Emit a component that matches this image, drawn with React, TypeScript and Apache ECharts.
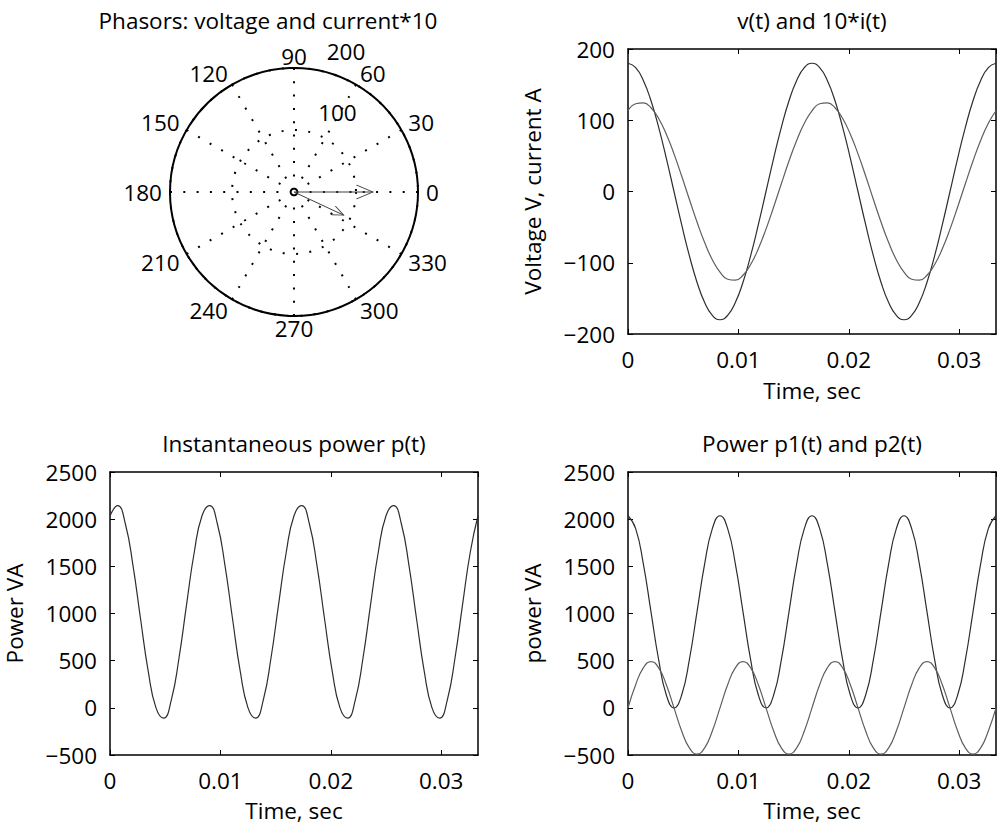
import React, { useEffect, useRef } from 'react';
import * as echarts from 'echarts';

// ---------------- data ----------------
const timeSec = [
  0, 0.000694, 0.001389, 0.002083, 0.002778, 0.003472, 0.004167, 0.004861, 0.005556, 0.00625, 0.006944, 0.007639,
  0.008333, 0.009028, 0.009722, 0.010417, 0.011111, 0.011806, 0.0125, 0.013194, 0.013889, 0.014583, 0.015278, 0.015972,
  0.016667, 0.017361, 0.018056, 0.01875, 0.019444, 0.020139, 0.020833, 0.021528, 0.022222, 0.022917, 0.023611, 0.024306,
  0.025, 0.025694, 0.026389, 0.027083, 0.027778, 0.028472, 0.029167, 0.029861, 0.030556, 0.03125, 0.031944, 0.032639,
  0.033333,
];

const voltageV = [
  180, 173.9, 155.9, 127.3, 90, 46.6, 0, -46.6, -90, -127.3, -155.9, -173.9,
  -180, -173.9, -155.9, -127.3, -90, -46.6, 0, 46.6, 90, 127.3, 155.9, 173.9,
  180, 173.9, 155.9, 127.3, 90, 46.6, 0, -46.6, -90, -127.3, -155.9, -173.9,
  -180, -173.9, -155.9, -127.3, -90, -46.6, 0, 46.6, 90, 127.3, 155.9, 173.9,
  180,
];

const current10A = [
  113.3, 123.1, 124.5, 117.5, 102.4, 80.3, 52.8, 21.7, -10.9, -42.8, -71.7, -95.8,
  -113.3, -123.1, -124.5, -117.5, -102.4, -80.3, -52.8, -21.7, 10.9, 42.8, 71.7, 95.8,
  113.3, 123.1, 124.5, 117.5, 102.4, 80.3, 52.8, 21.7, -10.9, -42.8, -71.7, -95.8,
  -113.3, -123.1, -124.5, -117.5, -102.4, -80.3, -52.8, -21.7, 10.9, 42.8, 71.7, 95.8,
  113.3,
];

const powerP = [
  2036, 2144.6, 1951.4, 1508, 933.4, 381.4, 0, -108.6, 84.6, 528, 1102.6, 1654.6,
  2036, 2144.6, 1951.4, 1508, 933.4, 381.4, 0, -108.6, 84.6, 528, 1102.6, 1654.6,
  2036, 2144.6, 1951.4, 1508, 933.4, 381.4, 0, -108.6, 84.6, 528, 1102.6, 1654.6,
  2036, 2144.6, 1951.4, 1508, 933.4, 381.4, 0, -108.6, 84.6, 528, 1102.6, 1654.6,
  2036,
];

const powerP1 = [
  2036, 1899.6, 1527, 1018, 509, 136.4, 0, 136.4, 509, 1018, 1527, 1899.6,
  2036, 1899.6, 1527, 1018, 509, 136.4, 0, 136.4, 509, 1018, 1527, 1899.6,
  2036, 1899.6, 1527, 1018, 509, 136.4, 0, 136.4, 509, 1018, 1527, 1899.6,
  2036, 1899.6, 1527, 1018, 509, 136.4, 0, 136.4, 509, 1018, 1527, 1899.6,
  2036,
];

const powerP2 = [
  0, 245, 424.4, 490, 424.4, 245, 0, -245, -424.4, -490, -424.4, -245,
  0, 245, 424.4, 490, 424.4, 245, 0, -245, -424.4, -490, -424.4, -245,
  0, 245, 424.4, 490, 424.4, 245, 0, -245, -424.4, -490, -424.4, -245,
  0, 245, 424.4, 490, 424.4, 245, 0, -245, -424.4, -490, -424.4, -245,
  0,
];

// phasors (rms magnitude, angle in degrees)
const phasorMagnitude = [127.3, 88.4];
const phasorAngleDeg = [0, 335];

// polar radius ring labels
const radiusTicks = [100, 200];
const radiusLabelAngle = 82;

const timeAxisRange = { min: 0, max: 0.033333, interval: 0.01 };
const viAxisRange = { min: -200, max: 200, interval: 100 };
const powerAxisRange = { min: -500, max: 2500, interval: 500 };
const angleAxisRange = { min: 0, max: 360, interval: 30 };
const radiusAxisRange = { min: 0, max: 200, interval: 100 };

const titles = [
  'Phasors: voltage and current*10',
  'v(t) and 10*i(t)',
  'Instantaneous power p(t)',
  'Power p1(t) and p2(t)',
];
const yNames = ['Voltage V, current A', 'Power VA', 'power VA'];
const xName = 'Time, sec';

// ---------------- styling ----------------
const FONT = '"Open Sans", "Noto Sans", sans-serif';
const FS = 22.5;
const DARK = '#2e2e2e';
const LIGHT = '#5e5e5e';
const ARROW = 'path://M-10,-4 L0,0 L-10,4 M10,0';
const DOTS = { color: '#000', width: 2, type: [2, 11.3] };

const txt = { fontFamily: FONT, fontSize: FS, color: '#000' };

const fmtY = (v: number) => (v < 0 ? '\u2212' + Math.abs(v) : String(v));
const fmtX = (v: number) => {
  const r = Math.round(v * 100);
  if (Math.abs(v * 100 - r) > 1e-6) return '';
  return r === 0 ? '0' : (r / 100).toFixed(2);
};

function buildOption() {
  const grids = [
    { left: 628, top: 49, width: 368, height: 285 },
    { left: 110, top: 472, width: 368, height: 283 },
    { left: 628, top: 472, width: 368, height: 283 },
  ];
  const yRanges = [viAxisRange, powerAxisRange, powerAxisRange];
  const xNameGaps = [47, 46, 46];

  const axisLine = { show: true, onZero: false, lineStyle: { color: '#000', width: 1.5 } };
  const axisTick = { show: true, inside: true, length: 5, lineStyle: { color: '#000', width: 1 } };

  const xAxis: any[] = [];
  const yAxis: any[] = [];
  grids.forEach((_, gi) => {
    xAxis.push({
      type: 'value', gridIndex: gi, position: 'bottom', ...timeAxisRange,
      axisLine, axisTick,
      axisLabel: { ...txt, margin: 14, formatter: fmtX, showMaxLabel: false },
      splitLine: { show: false },
      name: xName, nameLocation: 'middle', nameGap: xNameGaps[gi],
      nameTextStyle: { ...txt, lineHeight: 18 },
    });
    xAxis.push({
      type: 'value', gridIndex: gi, position: 'top', ...timeAxisRange,
      axisLine, axisTick, axisLabel: { show: false }, splitLine: { show: false },
    });
    yAxis.push({
      type: 'value', gridIndex: gi, position: 'left', ...yRanges[gi],
      axisLine, axisTick,
      axisLabel: { ...txt, margin: 13, formatter: fmtY },
      splitLine: { show: false },
      name: yNames[gi], nameLocation: 'middle', nameGap: 87, nameRotate: 90,
      nameTextStyle: { ...txt, lineHeight: 18 },
    });
    yAxis.push({
      type: 'value', gridIndex: gi, position: 'right', ...yRanges[gi],
      axisLine, axisTick, axisLabel: { show: false }, splitLine: { show: false },
    });
  });

  const pair = (ys: number[]) => timeSec.map((t, i) => [t, ys[i]]);
  const lineSeries = (name: string, ys: number[], gi: number, color: string) => ({
    type: 'line', name, xAxisIndex: gi * 2, yAxisIndex: gi * 2,
    data: pair(ys), showSymbol: false, symbol: 'none', smooth: true,
    lineStyle: { color, width: 1.2 }, itemStyle: { color }, silent: true,
  });

  const phasorSeries = phasorMagnitude.map((m, i) => ({
    type: 'line', coordinateSystem: 'polar', polarIndex: 0, silent: true, z: 5,
    showSymbol: true,
    symbol: (_v: any, p: any) => (p && p.dataIndex === 0 ? 'none' : ARROW),
    symbolSize: [m * 0.26, m * 0.11],
    symbolRotate: phasorAngleDeg[i],
    lineStyle: { color: '#404040', width: 1 },
    itemStyle: { color: 'transparent', borderColor: '#404040', borderWidth: 1 },
    data: [
      [0, phasorAngleDeg[i]],
      [m, phasorAngleDeg[i]],
    ],
  }));

  const titlePos = [[268, 20], [812, 20], [294, 443], [812, 443]];

  return {
    animation: false,
    backgroundColor: '#fff',
    textStyle: { fontFamily: FONT },
    grid: grids.map((g) => ({ ...g, containLabel: false })),
    xAxis,
    yAxis,
    polar: [{ center: [294, 192], radius: 124 }],
    angleAxis: [{
      polarIndex: 0, type: 'value', ...angleAxisRange, startAngle: 0, clockwise: false,
      axisLine: { show: true, lineStyle: { color: '#000', width: 2 } },
      axisTick: { show: false },
      axisLabel: { ...txt, margin: 8, lineHeight: 8, formatter: (v: number) => (v >= 360 ? '' : String(v)) },
      splitLine: { show: true, lineStyle: DOTS },
    }],
    radiusAxis: [{
      polarIndex: 0, type: 'value', ...radiusAxisRange,
      axisLine: { show: false }, axisTick: { show: false }, axisLabel: { show: false },
      splitLine: { show: true, lineStyle: DOTS },
    }],
    graphic: titles.map((t, i) => ({
      type: 'text', x: titlePos[i][0], y: titlePos[i][1], silent: true,
      style: { text: t, fill: '#000', fontSize: FS, fontFamily: FONT, align: 'center', verticalAlign: 'middle' },
    })),
    series: [
      lineSeries('v(t)', voltageV, 0, DARK),
      lineSeries('10*i(t)', current10A, 0, LIGHT),
      lineSeries('p(t)', powerP, 1, DARK),
      lineSeries('p1(t)', powerP1, 2, DARK),
      lineSeries('p2(t)', powerP2, 2, LIGHT),
      ...phasorSeries,
      {
        type: 'scatter', coordinateSystem: 'polar', polarIndex: 0, silent: true,
        symbolSize: 1, itemStyle: { color: 'transparent', opacity: 1 },
        data: radiusTicks.map((r) => [r, radiusLabelAngle]),
        label: {
          show: true, position: 'right', distance: 15, offset: [0, -18],
          formatter: (p: any) => String(p.value[0]), ...txt,
        },
      },
    ],
  };
}

export default function App() {
  const ref = useRef<HTMLDivElement>(null);
  useEffect(() => {
    const chart = echarts.init(ref.current as HTMLDivElement, undefined, { renderer: 'svg' });
    chart.setOption(buildOption() as any);
    return () => chart.dispose();
  }, []);
  return (
    <div
      ref={ref}
      style={{ position: 'absolute', left: 0, top: 0, width: 1001, height: 825, background: '#fff' }}
    />
  );
}
